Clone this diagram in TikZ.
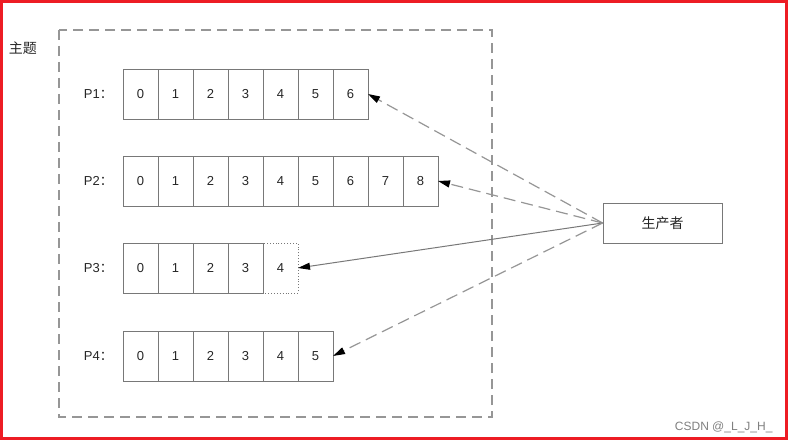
\documentclass[tikz,border=0pt]{standalone}
\usepackage{fontspec}
\setmainfont{Liberation Sans}
\newfontfamily\cjk{Noto Sans CJK SC}
\usetikzlibrary{arrows.meta, positioning}
\definecolor{framered}{RGB}{237,28,36}
\definecolor{linegray}{RGB}{150,150,150}
\definecolor{boxgray}{RGB}{120,120,120}

\begin{document}
\begin{tikzpicture}[x=1pt, y=-1pt,
	cell/.style={draw=boxgray, line width=0.9pt, minimum width=35pt, minimum height=50pt, inner sep=0pt, outer sep=0pt, text=black!85, font=\fontsize{13}{15}\selectfont},
	rowlabel/.style={text=black!85, font=\fontsize{13}{15}\selectfont, inner sep=0pt},
	feed/.style={draw=linegray, line width=1.2pt, dash pattern=on 12pt off 6pt, -{Triangle[length=12pt, width=7pt, color=black]}},
	feedsolid/.style={draw=boxgray, line width=1pt, -{Triangle[length=12pt, width=7pt, color=black]}}]

	% Frame
	\useasboundingbox (0,0) rectangle (794,443);
	\draw[framered, line width=3pt] (1.5,1.5) rectangle (786.5,438.5);

	% Topic
	\draw[linegray, line width=1.3pt, dash pattern=on 10pt off 6pt] (59,30) rectangle (492,417);
	\node[rowlabel, font=\cjk\fontsize{14}{16}\selectfont] (topic) at (23,48) {主题};

	% Partitions
	\draw[boxgray, line width=0.9pt, dotted] (263,243) rectangle (298,293);
	\foreach \i in {0,...,6} \node[cell] (pa-\i) at ({140.5+35*\i},94) {\i};
	\foreach \i in {0,...,8} \node[cell] (pb-\i) at ({140.5+35*\i},181) {\i};
	\foreach \i in {0,...,3} \node[cell] (pc-\i) at ({140.5+35*\i},268) {\i};
	\node[cell, draw=none] (pc-4) at (280.5,268) {4};
	\foreach \i in {0,...,5} \node[cell] (pd-\i) at ({140.5+35*\i},356) {\i};

	\node[rowlabel, left=10pt of pa-0] (la) {P1{\cjk：}};
	\node[rowlabel, left=10pt of pb-0] (lb) {P2{\cjk：}};
	\node[rowlabel, left=10pt of pc-0] (lc) {P3{\cjk：}};
	\node[rowlabel, left=10pt of pd-0] (ld) {P4{\cjk：}};

	% Producer
	\node[draw=boxgray, line width=0.9pt, minimum width=119pt, minimum height=40pt, font=\cjk\fontsize{14}{16}\selectfont, text=black!85] (producer) at (662.5,223) {生产者};

	\draw[feed] (producer.west) -- (pa-6.east);
	\draw[feed] (producer.west) -- (pb-8.east);
	\draw[feedsolid] (producer.west) -- (pc-4.east);
	\draw[feed] (producer.west) -- (pd-5.east);

	% Watermark
	\node[text=gray, font=\fontsize{12}{14}\selectfont, anchor=east] (mark) at (776,427) {CSDN @\_L\_J\_H\_};
\end{tikzpicture}
\end{document}
